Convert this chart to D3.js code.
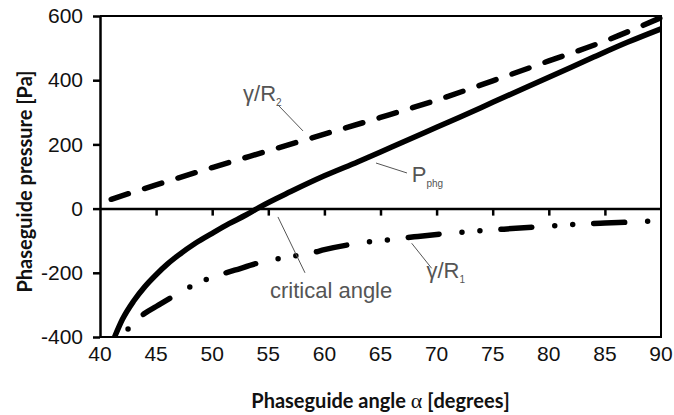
<!DOCTYPE html>
<html>
<head>
<meta charset="utf-8">
<script src="https://cdn.jsdelivr.net/npm/d3@7"></script>
<style>
  body { margin: 0; background: #fff; }
  svg { display: block; }
</style>
</head>
<body>
<div id="chart"></div>
<script>
// tick values
var angleTicks = [40, 45, 50, 55, 60, 65, 70, 75, 80, 85, 90];
var pressureTicks = [-400, -200, 0, 200, 400, 600];

// P_phg (solid)
var pphgAngle = [41.3, 42, 43, 44, 45, 46, 47, 48.5, 50, 51.5, 53, 54.2, 57, 60, 63, 66, 69, 72, 75, 78, 81, 84, 87, 90];
var pphgValue = [-400, -345, -288, -243, -206, -173, -145, -108, -77, -47, -20, 4, 53, 102, 146, 192, 238, 284, 331, 378, 425, 472, 518, 560];

// gamma/R2 (dashed)
var r2Angle = [41, 45, 50, 55, 60, 65, 70, 75, 80, 85, 90];
var r2Value = [29, 74, 128, 180, 232, 284, 338, 398, 460, 522, 595];

// gamma/R1 (dash-dot-dot)
var r1Angle = [42.5, 44, 45, 46.7, 48.2, 50, 52, 54.6, 57, 59, 60, 63, 66, 68, 71, 74, 76, 79.4, 83, 85, 88, 90];
var r1Value = [-375, -326, -305, -270, -241, -214, -192, -165, -150, -137, -128, -108, -96, -88, -77, -69, -64, -56, -48, -45, -41, -37];

var svgWidth = 674;
var svgHeight = 415;

var margin = { top: 16, right: 13, bottom: 78, left: 100 };
var chartWidth = svgWidth - margin.left - margin.right;
var chartHeight = svgHeight - margin.top - margin.bottom;

var svg = d3.select("#chart")
  .append("svg")
  .attr("width", svgWidth)
  .attr("height", svgHeight);

var chartGroup = svg.append("g")
  .attr("transform", `translate(${margin.left}, ${margin.top})`);

var xScale = d3.scaleLinear().domain([40, 90]).range([0, chartWidth]);
var yScale = d3.scaleLinear().domain([-400, 600]).range([chartHeight, 0]);

var tickFont = "'Liberation Sans', Arial, Helvetica, sans-serif";

// frame: top, right, bottom
chartGroup.append("path")
  .attr("d", `M0,0H${chartWidth}V${chartHeight}H0`)
  .attr("fill", "none")
  .attr("stroke", "#000")
  .attr("stroke-width", 2);

// left y axis
var yAxis = d3.axisLeft(yScale)
  .tickValues(pressureTicks)
  .tickSize(7)
  .tickPadding(10)
  .tickSizeOuter(0)
  .tickFormat(d => String(d));

var yAxisG = chartGroup.append("g").call(yAxis);
yAxisG.attr("font-family", tickFont).attr("font-size", 21);
yAxisG.select(".domain").attr("stroke-width", 2.5);
yAxisG.selectAll(".tick line").attr("stroke-width", 2.5);
yAxisG.selectAll("text").attr("fill", "#111");

// zero line with ticks pointing down
var zeroAxis = d3.axisBottom(xScale)
  .tickValues(angleTicks.slice(1, -1))
  .tickSize(7)
  .tickSizeOuter(0)
  .tickFormat("");

var zeroG = chartGroup.append("g")
  .attr("transform", `translate(0, ${yScale(0)})`)
  .call(zeroAxis);
zeroG.select(".domain").attr("stroke-width", 2.5);
zeroG.selectAll(".tick line").attr("stroke-width", 2.5);

// x tick labels under the frame
chartGroup.append("g")
  .attr("font-family", tickFont)
  .attr("font-size", 21)
  .attr("fill", "#111")
  .attr("text-anchor", "middle")
  .selectAll("text")
  .data(angleTicks)
  .enter()
  .append("text")
  .attr("x", d => xScale(d))
  .attr("y", chartHeight + 24)
  .text(d => d);

// lines
var line = d3.line()
  .x(d => xScale(d[0]))
  .y(d => yScale(d[1]))
  .curve(d3.curveMonotoneX);

var r2Data = r2Angle.map((a, i) => [a, r2Value[i]]);
var r1Data = r1Angle.map((a, i) => [a, r1Value[i]]);
var pphgData = pphgAngle.map((a, i) => [a, pphgValue[i]]);

chartGroup.append("path")
  .datum(r2Data)
  .attr("d", line)
  .attr("fill", "none")
  .attr("stroke", "#000")
  .attr("stroke-width", 5.5)
  .attr("stroke-linecap", "round")
  .attr("stroke-dasharray", "18,17");

chartGroup.append("path")
  .datum(r1Data)
  .attr("d", line)
  .attr("fill", "none")
  .attr("stroke", "#000")
  .attr("stroke-width", 5.5)
  .attr("stroke-linecap", "round")
  .attr("stroke-dasharray", "31,23,0,18,0,21")
  .attr("stroke-dashoffset", 72);

chartGroup.append("path")
  .datum(pphgData)
  .attr("d", line)
  .attr("fill", "none")
  .attr("stroke", "#000")
  .attr("stroke-width", 5.5);

// annotations: leader lines + labels (data coordinates)
var leaders = [
  [[55.86, 323], [58.09, 242]],
  [[64.6, 142], [67.36, 111]],
  [[55.86, -26], [58.27, -200]],
  [[67.78, -108], [69.56, -186]]
];

chartGroup.append("g")
  .selectAll("line")
  .data(leaders)
  .enter()
  .append("line")
  .attr("x1", d => xScale(d[0][0]))
  .attr("y1", d => yScale(d[0][1]))
  .attr("x2", d => xScale(d[1][0]))
  .attr("y2", d => yScale(d[1][1]))
  .attr("stroke", "#555")
  .attr("stroke-width", 1);

var labels = [
  { x: 52.75, y: 335, main: "\u03b3/R", sub: "2" },
  { x: 67.78, y: 83, main: "P", sub: "phg" },
  { x: 55.15, y: -279, main: "critical angle", sub: "" },
  { x: 69.1, y: -216, main: "\u03b3/R", sub: "1" }
];

var labelText = chartGroup.append("g")
  .attr("font-family", tickFont)
  .attr("fill", "#555")
  .selectAll("text")
  .data(labels)
  .enter()
  .append("text")
  .attr("x", d => xScale(d.x))
  .attr("y", d => yScale(d.y))
  .attr("font-size", 22);

labelText.append("tspan").text(d => d.main);
labelText.append("tspan")
  .attr("font-size", 10)
  .attr("dy", 5)
  .text(d => d.sub);

// axis titles
var titleFont = "Lato, 'Open Sans', sans-serif";

svg.append("text")
  .attr("transform", `translate(32, ${margin.top + chartHeight / 2 + 5}) rotate(-90)`)
  .attr("text-anchor", "middle")
  .attr("font-family", titleFont)
  .attr("font-weight", "bold")
  .attr("font-size", 20)
  .attr("fill", "#111")
  .text("Phaseguide pressure [Pa]");

var xTitle = svg.append("text")
  .attr("x", margin.left + chartWidth / 2)
  .attr("y", 408)
  .attr("text-anchor", "middle")
  .attr("font-family", titleFont)
  .attr("font-weight", "bold")
  .attr("font-size", 20)
  .attr("fill", "#111");

xTitle.append("tspan").text("Phaseguide angle ");
xTitle.append("tspan")
  .attr("font-family", "'Liberation Serif', 'DejaVu Serif', serif")
  .attr("font-weight", "normal")
  .attr("font-size", 22)
  .text("\u03b1");
xTitle.append("tspan").text(" [degrees]");
</script>
</body>
</html>
